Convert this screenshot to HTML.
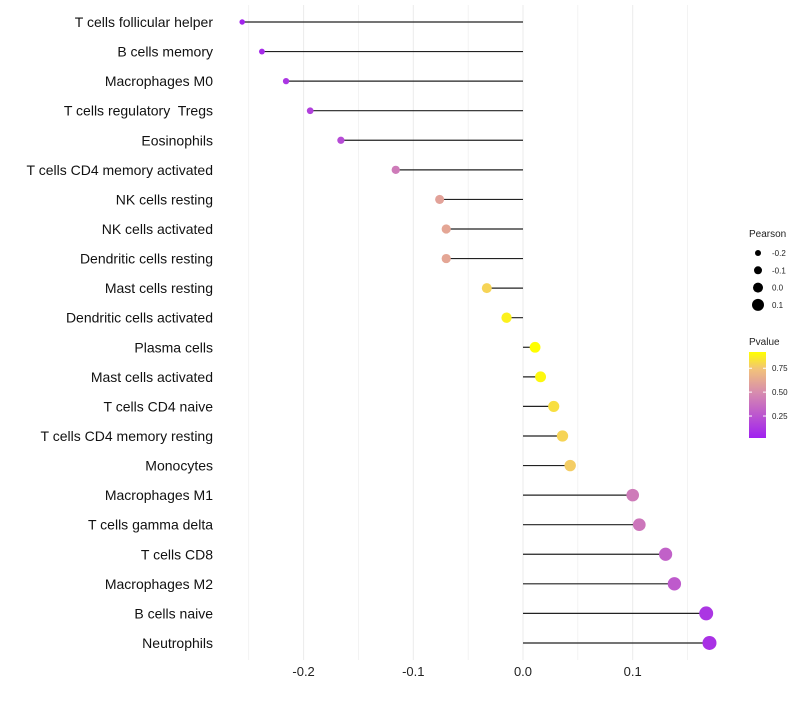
<!DOCTYPE html>
<html><head><meta charset="utf-8"><style>
body{margin:0;background:#fff;font-family:"Liberation Sans",sans-serif;}
svg text{font-family:"Liberation Sans",sans-serif;white-space:pre;}
</style></head><body>
<svg id="chart" width="800" height="700" xmlns="http://www.w3.org/2000/svg">
<defs><linearGradient id="pg" x1="0" y1="1" x2="0" y2="0">
<stop offset="0" stop-color="#A020F0"/><stop offset="0.53" stop-color="#D78CAE"/><stop offset="0.8" stop-color="#F2C27A"/><stop offset="1" stop-color="#FFFF00"/></linearGradient></defs>
<g id="grid"></g><g id="marks"></g><g id="labels"></g>
<g>
<text x="749" y="237" font-size="10" fill="#222">Pearson</text>
<g id="sizeleg"></g>
<text x="749" y="345" font-size="10" fill="#222">Pvalue</text>
<rect x="749" y="352" width="17" height="86" fill="url(#pg)"/>
<g id="colleg"></g>
</g>
</svg>
<script>
const categories=["T cells follicular helper","B cells memory","Macrophages M0","T cells regulatory  Tregs","Eosinophils","T cells CD4 memory activated","NK cells resting","NK cells activated","Dendritic cells resting","Mast cells resting","Dendritic cells activated","Plasma cells","Mast cells activated","T cells CD4 naive","T cells CD4 memory resting","Monocytes","Macrophages M1","T cells gamma delta","T cells CD8","Macrophages M2","B cells naive","Neutrophils"];
const pearson=[-0.256,-0.238,-0.216,-0.194,-0.166,-0.116,-0.076,-0.070,-0.070,-0.033,-0.015,0.011,0.016,0.028,0.036,0.043,0.100,0.106,0.130,0.138,0.167,0.170];
const pvalue=[0.02,0.05,0.1,0.15,0.2,0.42,0.6,0.62,0.62,0.8,0.88,0.92,0.9,0.83,0.8,0.78,0.42,0.4,0.3,0.27,0.1,0.08];
const xTicks=[-0.2,-0.1,0.0,0.1];
const xTickLabels=["-0.2","-0.1","0.0","0.1"];
const sizeLegend=[-0.2,-0.1,0.0,0.1];
const colorLegend=[0.25,0.5,0.75];
const NS="http://www.w3.org/2000/svg";
const X=v=>523+v*1097;
const Y=i=>22+i*29.57;
const R=v=>5.3+10*v;
const stops=[[0,[160,32,240]],[0.5,[215,140,174]],[0.75,[242,194,122]],[0.92,[255,255,0]]];
function col(p){p=Math.max(0,Math.min(0.92,p));for(let i=1;i<stops.length;i++){if(p<=stops[i][0]){const a=stops[i-1],b=stops[i],t=(p-a[0])/(b[0]-a[0]);return "rgb("+a[1].map((c,k)=>Math.round(c+(b[1][k]-c)*t)).join(",")+")";}}return "rgb(255,255,0)";}
function mk(tag,attrs,parent){const e=document.createElementNS(NS,tag);for(const k in attrs)e.setAttribute(k,attrs[k]);parent.appendChild(e);return e;}
const grid=document.getElementById('grid'),marks=document.getElementById('marks'),labels=document.getElementById('labels');
for(let v=-0.25;v<=0.151;v+=0.05){const g=mk('line',{x1:X(v),x2:X(v),y1:5,y2:660,stroke:'#ebebeb','stroke-width':Math.abs(Math.round(v*20))%2===0?1:0.6},grid);

}
xTicks.forEach((v,i)=>{const t=mk('text',{x:X(v),y:676,'font-size':13,'text-anchor':'middle',fill:'#222'},labels);t.textContent=xTickLabels[i];

});
categories.forEach((c,i)=>{
const t=mk('text',{x:213,y:Y(i)+5,'font-size':14,'text-anchor':'end',fill:'#111'},labels);t.textContent=c;


const l=mk('line',{x1:X(0),x2:X(pearson[i]),y1:Y(i),y2:Y(i),stroke:'#222','stroke-width':1.2},marks);


const d=mk('circle',{cx:X(pearson[i]),cy:Y(i),r:R(pearson[i]),fill:col(pvalue[i])},marks);


});
const sl=document.getElementById('sizeleg');
sizeLegend.forEach((v,i)=>{const y=253+i*17.3;const c=mk('circle',{cx:758,cy:y,r:R(v)-0.3,fill:'#000'},sl);


const t=mk('text',{x:772,y:y+3,'font-size':8,fill:'#222'},sl);t.textContent=v.toFixed(1);

});
const cl=document.getElementById('colleg');
colorLegend.forEach(p=>{const y=438-(p-0.02)/0.9*86;mk('line',{x1:749,x2:752,y1:y,y2:y,stroke:'#fff'},cl);mk('line',{x1:763,x2:766,y1:y,y2:y,stroke:'#fff'},cl);
const t=mk('text',{x:772,y:y+3,'font-size':8,fill:'#222'},cl);t.textContent=p.toFixed(2);

});
</script>
</body></html>
